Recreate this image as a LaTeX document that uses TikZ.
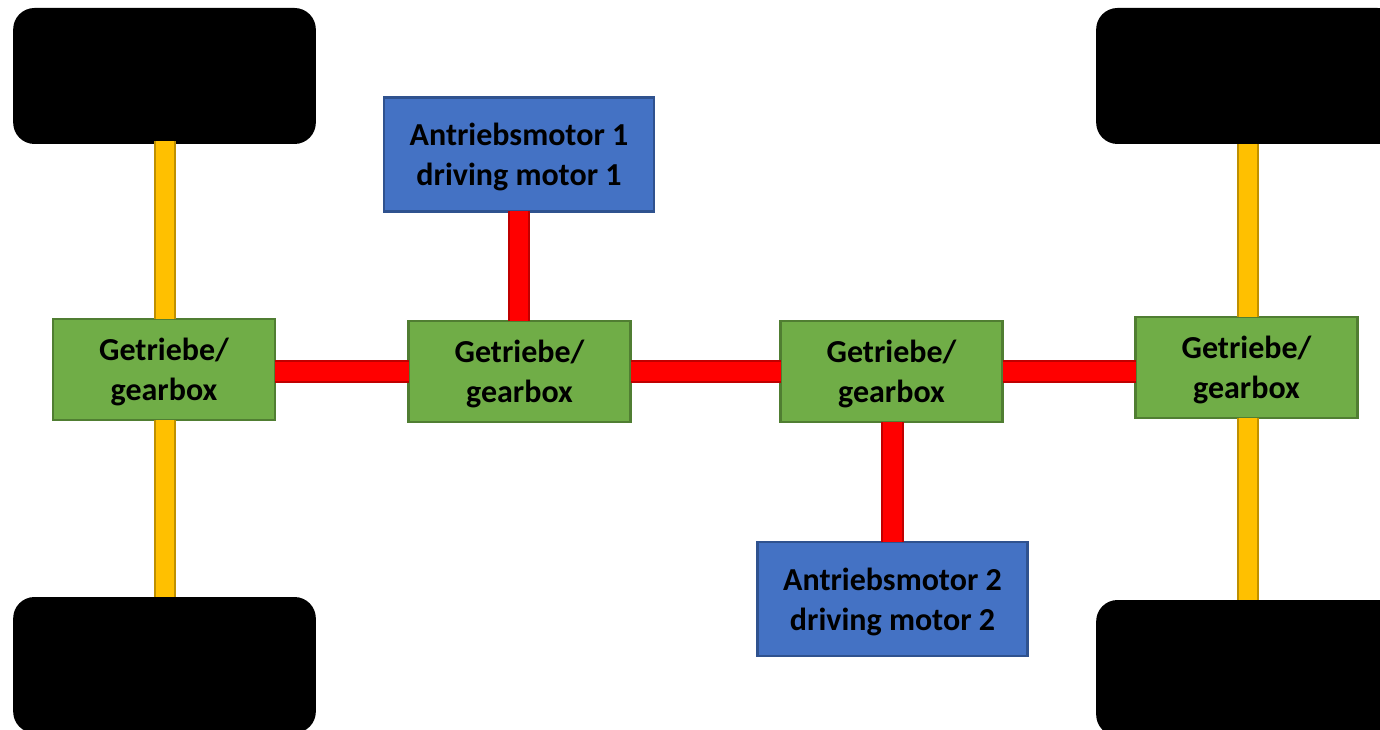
\documentclass[tikz,border=0pt]{standalone}
\usepackage{fontspec}
\setmainfont{Carlito}
\usepackage{tikz}
\usetikzlibrary{arrows.meta}
\definecolor{gearfill}{HTML}{70AD47}
\definecolor{geardraw}{HTML}{507E32}
\definecolor{motorfill}{HTML}{4472C4}
\definecolor{motordraw}{HTML}{2F528F}
\definecolor{axlefill}{HTML}{FFC000}
\definecolor{axledraw}{HTML}{BF9000}
\definecolor{shaftdraw}{HTML}{C00000}
\tikzset{
	box/.style={rectangle, line width=1.9pt, outer sep=0pt, align=center, text depth=0pt, font=\fontsize{24}{30}\selectfont\bfseries},
	gear/.style={box, draw=geardraw, fill=gearfill, minimum width=166.5pt, minimum height=75.5pt},
	motor/.style={box, draw=motordraw, fill=motorfill, minimum width=202.5pt, minimum height=85.5pt},
	wheel/.style={rectangle, fill=black, rounded corners=16pt, outer sep=0pt, minimum width=227pt, minimum height=102pt},
	shaft/.style={draw=shaftdraw, line width=1.5pt, double=red, double distance=14.2pt},
	axle/.style={draw=axledraw, line width=1.5pt, double=axlefill, double distance=13.5pt}
}
\begin{document}
\begin{tikzpicture}[x=0.75pt,y=-0.75pt]
	\useasboundingbox (0,0) rectangle (1380,730);
	\node [wheel] (wheel-1-1) at (164.5,76) {};
	\node [wheel] (wheel-1-2) at (1247.5,76) {};
	\node [wheel] (wheel-2-1) at (164.5,665) {};
	\node [wheel] (wheel-2-2) at (1247.5,668) {};

	\node [gear] (gear-1) at (164,369.5) {Getriebe/\\gearbox};
	\node [gear] (gear-2) at (519.5,371.5) {Getriebe/\\gearbox};
	\node [gear] (gear-3) at (891.5,371.5) {Getriebe/\\gearbox};
	\node [gear] (gear-4) at (1246.5,367.5) {Getriebe/\\gearbox};

	\node [motor] (motor-1) at (519,154.5) {Antriebsmotor 1\\driving motor 1};
	\node [motor] (motor-2) at (892.5,599) {Antriebsmotor 2\\driving motor 2};

	\path
	(gear-2.west) edge [shaft] (gear-2.west -| gear-1.east)
	(gear-2.east) edge [shaft] (gear-3.west)
	(gear-3.east) edge [shaft] (gear-3.east -| gear-4.west)
	(motor-1.south) edge [shaft] (motor-1.south |- gear-2.north)
	(motor-2.north) edge [shaft] (motor-2.north |- gear-3.south)
	;
	\path
	(wheel-1-1.south) edge [axle, shorten <=-2pt] (wheel-1-1.south |- gear-1.north)
	(wheel-2-1.north) edge [axle] (wheel-2-1.north |- gear-1.south)
	(wheel-1-2.south) edge [axle] (wheel-1-2.south |- gear-4.north)
	(wheel-2-2.north) edge [axle] (wheel-2-2.north |- gear-4.south)
	;
\end{tikzpicture}
\end{document}
